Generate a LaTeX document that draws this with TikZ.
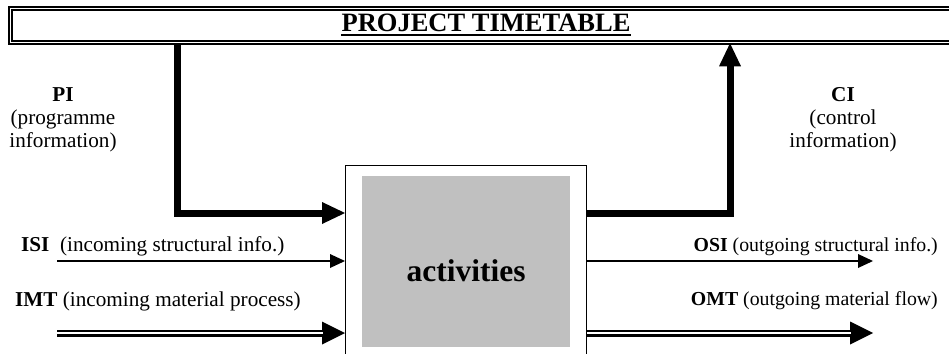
\documentclass[tikz,border=0pt]{standalone}
\usepackage{fontspec}
\setmainfont{Liberation Serif}
\usetikzlibrary{arrows.meta,calc}
\definecolor{boxgray}{RGB}{192,192,192}
\begin{document}
\begin{tikzpicture}[x=1pt,y=-1pt,
  lbl/.style={inner sep=0pt, font=\fontsize{21.2}{23}\selectfont},
  rlbl/.style={inner sep=0pt, font=\fontsize{19.8}{22}\selectfont},
  bigarrow/.style={line width=7pt, line join=miter, -{Triangle[length=23pt,width=22pt,line width=0pt]}},
  thinarrow/.style={line width=1.8pt, -{Triangle[length=15pt,width=14pt,line width=0pt]}},
  dblarrow/.style={line width=7pt, -{Triangle[length=23pt,width=23pt,line width=0pt]}},
  dblgap/.style={draw=white, line width=2pt, shorten >=22pt}]
\useasboundingbox (0,0) rectangle (949,353);
\clip (0,0) rectangle (949,353);
% title bar
\node[draw, double, line width=1.8pt, double distance=1.4pt, minimum width=1000pt, minimum height=34pt, anchor=north west, inner sep=0pt] (tt) at (9.3,7.5) {};
\node[inner sep=0pt, anchor=base, font=\fontsize{26.5}{28}\selectfont\bfseries] (ttl) at (486,32) {PROJECT TIMETABLE};
\draw[line width=2.5pt] ([yshift=-3pt]ttl.base west) -- ([yshift=-3pt]ttl.base east);
% activities box
\node[draw, fill=white, line width=1.4pt, minimum width=241pt, minimum height=215pt, anchor=north west, inner sep=0pt] (act) at (345,165) {};
\node[fill=boxgray, minimum width=208pt, minimum height=171pt, anchor=north west, inner sep=0pt] (gray) at (362,176) {};
\node[inner sep=0pt, font=\fontsize{31.5}{34}\selectfont\bfseries] (actl) at (466,271) {activities};
% coordinates
\coordinate (pibend) at (177,213);
\coordinate (cibend) at (730,213);
\coordinate (isiS) at (57,261);
\coordinate (osiE) at (873,261);
\coordinate (imtS) at (57,333);
\coordinate (omtE) at (873,333);
% PI and CI
\draw[bigarrow] (tt.south -| pibend) |- (act.west |- pibend);
\draw[bigarrow] (act.east |- cibend) -| (tt.south -| cibend);
% ISI / OSI
\draw[thinarrow] (isiS) -- (act.west |- isiS);
\draw[thinarrow] (act.east |- osiE) -- (osiE);
% IMT / OMT
\draw[dblarrow] (imtS) -- (act.west |- imtS);
\draw[dblgap] (imtS) -- (act.west |- imtS);
\draw[dblarrow] (act.east |- omtE) -- (omtE);
\draw[dblgap] (act.east |- omtE) -- (omtE);
% labels
\node[lbl, align=center] (pi) at (63,120) {\textbf{PI}\\(programme\\information)};
\node[lbl, align=center] (ci) at (843,120) {\textbf{CI}\\(control\\information)};
\node[lbl, anchor=base west] (isi) at (21,251) {\textbf{ISI}\ \ (incoming structural info.)};
\node[lbl, anchor=base west] (imt) at (15,306) {\textbf{IMT} (incoming material process)};
\node[rlbl, anchor=base east] (osi) at (938,251) {\textbf{OSI} (outgoing structural info.)};
\node[rlbl, anchor=base east] (omt) at (938,305) {\textbf{OMT} (outgoing material flow)};
\end{tikzpicture}
\end{document}
